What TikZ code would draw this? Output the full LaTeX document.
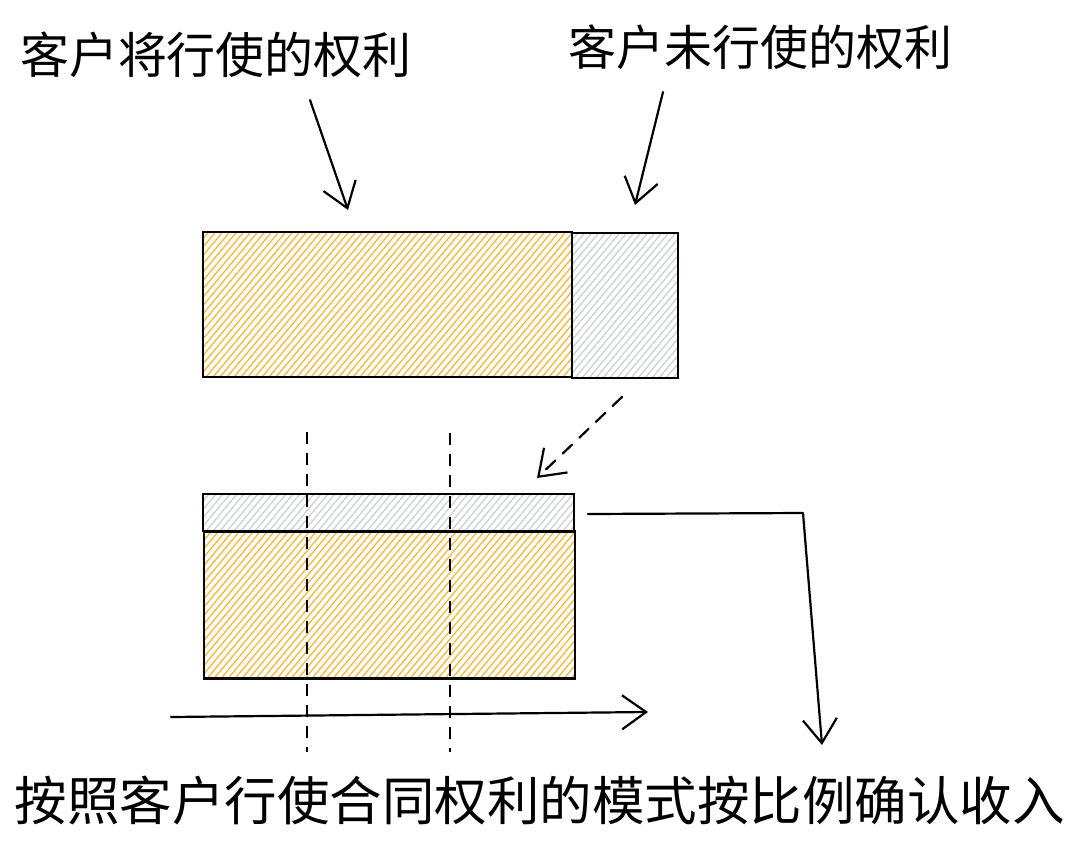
\documentclass[tikz,border=0pt]{standalone}
\usepackage{fontspec}
\newfontfamily\cjk{Noto Sans CJK SC}
\usetikzlibrary{arrows.meta}
\definecolor{hatchorange}{HTML}{F8B62D}
\definecolor{hatchgray}{HTML}{C9CFD6}
\tikzset{
  hatch/.style={path picture={
    \foreach \k in {-200,-193,...,600}{
      \draw[#1,line width=1.2pt] ([xshift=\k pt]path picture bounding box.south west) -- ++(50:400pt);
    }}},
  bar/.style={draw=black,line width=2.8pt,inner sep=0pt,outer sep=0pt,rectangle},
  conn/.style={draw=black,line width=2.2pt,line cap=round,-{Straight Barb[length=24pt,width=34pt,line width=2.2pt]}},
  guide/.style={draw=black,line width=2.2pt,dash pattern=on 12pt off 9pt},
  label/.style={font=\cjk,inner sep=0pt,text=black},
}
\begin{document}
\begin{tikzpicture}[x=1pt,y=-1pt]
\useasboundingbox[fill=white] (0,0) rectangle (1080,847);

% labels
\node[label,font=\cjk\fontsize{49}{54}\selectfont] (lblused) at (216,55) {客户将行使的权利};
\node[label,font=\cjk\fontsize{48}{53}\selectfont] (lblunused) at (760,47) {客户未行使的权利};
\node[label,font=\cjk\fontsize{52.5}{58}\selectfont] (lblbottom) at (540,800) {按照客户行使合同权利的模式按比例确认收入};

% top bar
\node[bar,hatch=hatchorange,minimum width=369pt,minimum height=145pt] (used) at (387.5,304.5) {};
\node[bar,hatch=hatchgray,minimum width=106pt,minimum height=145pt] (unused) at (625,305.5) {};

% bottom bar
\node[bar,hatch=hatchgray,minimum width=371pt,minimum height=37pt] (spread) at (388.5,512.5) {};
\node[bar,hatch=hatchorange,minimum width=371pt,minimum height=147pt] (base) at (389.5,605) {};

% arrow coordinates
\coordinate (a1s) at (310,100);
\coordinate (a1e) at (348,210);
\coordinate (a2s) at (663,92);
\coordinate (a2e) at (635,205);
\coordinate (dss) at (622,397);
\coordinate (dse) at (537,478);
\coordinate (g1s) at (307,432);
\coordinate (g1e) at (307,752);
\coordinate (g2s) at (450,433);
\coordinate (g2e) at (450,752);
\coordinate (ts) at (171,717);
\coordinate (te) at (648,712);
\coordinate (rs) at (588,514);
\coordinate (rc) at (803,513);
\coordinate (re) at (822,745);

% dashed guides
\draw[guide] (g1s) -- (g1e);
\draw[guide] (g2s) -- (g2e);

% connectors
\draw[conn] (a1s) -- (a1e);
\draw[conn] (a2s) -- (a2e);
\draw[conn,dash pattern=on 13pt off 10pt] (dss) -- (dse);
\draw[conn] (ts) -- (te);
\draw[conn,line join=round] (rs) -- (rc) -- (re);
\end{tikzpicture}
\end{document}
